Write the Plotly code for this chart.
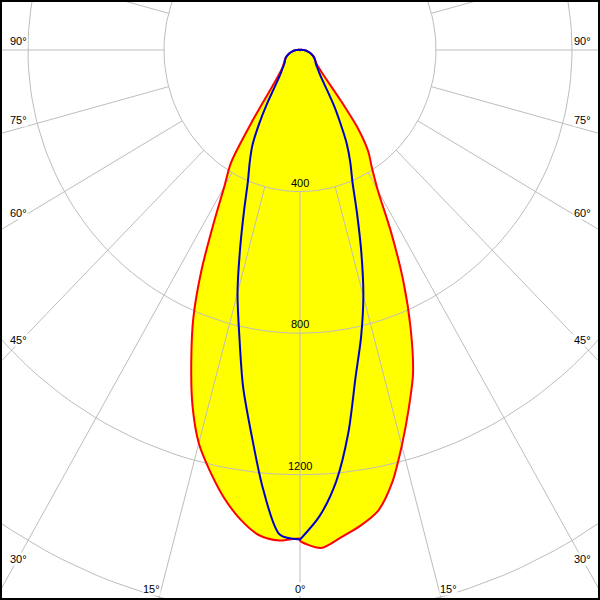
import numpy as np
import plotly.graph_objects as go

# ---- data ----
angles = [0, 2.5, 5, 7.5, 10, 12.5, 15, 17.5, 20, 22.5, 25, 27.5, 30, 32.5, 35, 37.5, 40,
          45, 50, 55, 60, 65, 70, 75, 80, 85, 90, 100, 110, 120, 135, 150, 165, 180]

red_c180 = [1380, 1387, 1376, 1338, 1285, 1220, 1150, 1052, 935, 820, 685, 548, 445, 378, 240, 150, 108,
            75, 63, 56, 50, 44, 37, 30, 23, 17, 12, 6, 3, 2, 1, 0, 0, 0]
red_c0 = [1386, 1408, 1382, 1356, 1322, 1252, 1157, 1063, 972, 850, 718, 580, 458, 393, 350, 282, 186,
          92, 66, 56, 50, 44, 37, 30, 23, 17, 12, 6, 3, 2, 1, 0, 0, 0]
blue_c270 = [1383, 1370, 1245, 1095, 965, 825, 710, 585, 480, 400, 350, 303, 240, 182, 135, 108, 90,
             72, 60, 54, 50, 44, 37, 30, 22, 16, 11, 5, 3, 2, 1, 0, 0, 0]
blue_c90 = [1383, 1318, 1223, 1090, 940, 830, 720, 600, 490, 403, 350, 297, 235, 185, 140, 110, 92,
            73, 61, 55, 50, 44, 37, 30, 22, 16, 11, 5, 3, 2, 1, 0, 0, 0]

ring_values = [400, 800, 1200, 1600]
ring_labels = ["400", "800", "1200"]
spoke_step = 15
angle_labels = [0, 15, 30, 45, 60, 75, 90]

# ---- geometry of the picture ----
W = H = 600
CX, CY = 300, 50          # pixel position of the pole
SX, SY = 0.34, 0.354      # pixels per cd horizontally / vertically


def to_xy(ang, val, side):
    a = np.radians(np.asarray(ang, float))
    v = np.asarray(val, float)
    return side * v * np.sin(a), -v * np.cos(a)


def curve(left, right):
    xl, yl = to_xy(angles, left, -1)
    xr, yr = to_xy(angles, right, 1)
    x = np.concatenate([xl[::-1], xr])
    y = np.concatenate([yl[::-1], yr])
    return x, y


fig = go.Figure()

rx, ry = curve(red_c180, red_c0)
bx, by = curve(blue_c270, blue_c90)

# yellow fill of the wide curve
fig.add_trace(go.Scatter(x=rx, y=ry, mode="lines", fill="toself", fillcolor="#ffff00",
                         line=dict(width=0, color="#ffff00", shape="spline", smoothing=0.8),
                         hoverinfo="skip"))

# grid: rings
gx, gy = [], []
t = np.radians(np.arange(0, 361, 2))
for r in ring_values:
    gx += list(r * np.sin(t)) + [None]
    gy += list(-r * np.cos(t)) + [None]
# grid: spokes from first ring outward
for a in range(0, 360, spoke_step):
    ar = np.radians(a)
    gx += [ring_values[0] * np.sin(ar), 2600 * np.sin(ar), None]
    gy += [-ring_values[0] * np.cos(ar), -2600 * np.cos(ar), None]
fig.add_trace(go.Scatter(x=gx, y=gy, mode="lines", line=dict(color="#bdbdbd", width=1),
                         hoverinfo="skip"))

# curves
fig.add_trace(go.Scatter(x=rx, y=ry, mode="lines",
                         line=dict(color="#ff0000", width=2, shape="spline", smoothing=0.8),
                         hoverinfo="skip"))
fig.add_trace(go.Scatter(x=bx, y=by, mode="lines",
                         line=dict(color="#0000cc", width=2, shape="spline", smoothing=0.8),
                         hoverinfo="skip"))

font = dict(family="Liberation Sans, Arial, sans-serif", size=11, color="black")

# ring value labels
for r, lab in zip(ring_values, ring_labels):
    fig.add_annotation(x=0, y=-r, text=lab, showarrow=False, xanchor="center", yanchor="bottom",
                       yshift=1, font=font)

# angle labels around the border
for a in angle_labels:
    for side in ([1] if a == 0 else [-1, 1]):
        ar = np.radians(a)
        dx = side * np.sin(ar) * SX
        dy = np.cos(ar) * SY
        t_bottom = (H - CY) / dy if dy > 1e-9 else np.inf
        t_side = (W / 2) / abs(dx) if abs(dx) > 1e-9 else np.inf
        if t_bottom < t_side:
            py = H - 11
            px = CX + dx * ((py - CY) / dy) + (side * 10 if a > 0 else 0)
        else:
            px = 18 if side < 0 else W - 18
            py = CY + dy * ((W / 2 - 18) / abs(dx)) - 9 * np.sin(np.radians((a - 30) * 1.5))
        fig.add_annotation(x=(px - CX) / SX, y=(CY - py) / SY, text=f"{a}°", showarrow=False,
                           xanchor="center", yanchor="middle", font=font, bgcolor="white",
                           borderpad=0)

fig.update_layout(
    width=W, height=H, margin=dict(l=0, r=0, t=0, b=0),
    paper_bgcolor="white", plot_bgcolor="white", showlegend=False,
    xaxis=dict(range=[-CX / SX, (W - CX) / SX], visible=False, fixedrange=True),
    yaxis=dict(range=[(CY - H) / SY, CY / SY], visible=False, fixedrange=True),
    shapes=[dict(type="rect", xref="paper", yref="paper", x0=0, y0=0, x1=1, y1=1,
                 line=dict(color="black", width=4), layer="above")],
)

fig.write_html("out.html", config={"displayModeBar": False},
               post_script="document.body.style.margin='0';document.body.style.overflow='hidden';")
